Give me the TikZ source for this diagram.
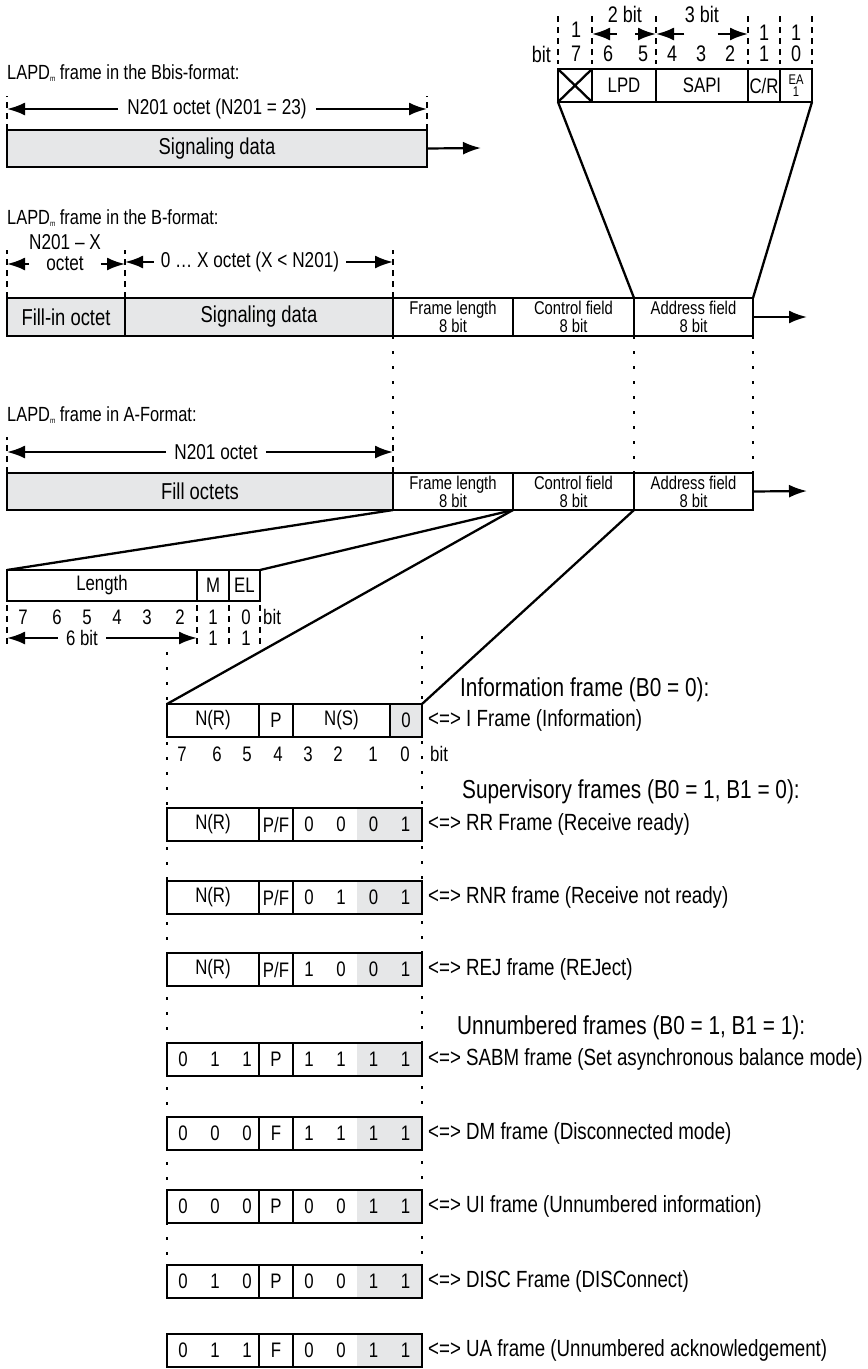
\documentclass[tikz,border=0pt]{standalone}
\usepackage{fontspec}
\setmainfont{Liberation Sans}[FakeStretch=0.8]
\usetikzlibrary{arrows.meta,positioning,calc}
\definecolor{fieldgray}{RGB}{230,231,232}

\newcommand\fTitle{\fontsize{20.5}{23}\selectfont}
\newcommand\fHead{\fontsize{26}{29}\selectfont}
\newcommand\fLab{\fontsize{23.4}{26}\selectfont}
\newcommand\fBox{\fontsize{23}{26}\selectfont}
\newcommand\fDim{\fontsize{21.5}{24}\selectfont}
\newcommand\fCell{\fontsize{21}{24}\selectfont}
\newcommand\fHdr{\fontsize{22.5}{25}\selectfont}
\newcommand\fSmall{\fontsize{18.5}{18}\selectfont}
\newcommand\fTiny{\fontsize{14}{12.5}\selectfont}
\newcommand\lapd{LAPD\raisebox{-2.5pt}{\fontsize{8}{8}\selectfont m}}
\newcommand\bitthree[3]{\makebox[32pt]{#1}\makebox[32pt]{#2}\makebox[32pt]{#3}}
\newcommand\bittwo[2]{\makebox[32pt]{#1}\makebox[32pt]{#2}}

\begin{document}
\begin{tikzpicture}[x=1pt, y=-1pt,
    fld/.style={draw, line width=2.7pt, fill=white, anchor=north west, inner sep=0pt, outer sep=0pt,
                align=center, font=\fBox, minimum width=#1, minimum height=37pt},
    gfld/.style={fld=#1, fill=fieldgray},
    cell/.style={fld=#1, minimum height=33pt, font=\fCell},
    bare/.style={anchor=north west, inner sep=0pt, outer sep=0pt, minimum width=#1,
                 minimum height=33pt, font=\fCell},
    two/.style={font=\fSmall},
    arr/.style={-{Latex[length=18pt,width=13pt]}, line width=2.2pt},
    slant/.style={line width=2.3pt},
    guide/.style={line width=2.8pt, dash pattern=on 2.8pt off 12.2pt},
    tick/.style={line width=2.2pt, dash pattern=on 6pt off 5pt},
    dimt/.style={inner ysep=0pt, inner xsep=#1, font=\fDim},
    num/.style={inner sep=0pt, font=\fCell},
    ttl/.style={anchor=west, inner sep=0pt, font=\fTitle},
    lab/.style={anchor=west, inner sep=0pt, font=\fLab},
    head/.style={anchor=west, inner sep=0pt, font=\fHead},
    hole/.style={inner sep=0pt, minimum height=0pt, minimum width=#1}
  ]
  \useasboundingbox (0,0) rectangle (868,1369);

  % address octet in detail
  \foreach \x in {558,592,656,748,780,812} \draw[tick] (\x,16) -- (\x,64);
  \node[cell=34pt] (ax) at (558,69) {};
  \draw[line width=2.3pt] (ax.north west) -- (ax.south east) (ax.north east) -- (ax.south west);
  \node[cell=64pt] (alpd) at (592,69) {LPD};
  \node[cell=92pt] (asapi) at (656,69) {SAPI};
  \node[cell=32pt] (acr) at (748,69) {C/R};
  \node[cell=32pt, font=\fTiny] (aea) at (780,69) {EA\\1};
  \node[num, font=\fHdr, anchor=east] (hbit) at (551,54) {bit};
  \foreach \x/\n in {576/7,608/6,643/5,672/4,701/3,730/2,764/1,796/0}
    \node[num, font=\fHdr] (hb\n) at (\x,54) {\n};
  \node[num, font=\fHdr] (hw7) at (576,30) {1};
  \node[num, font=\fHdr] (hw2) at (625,14) {2 bit};
  \node[num, font=\fHdr] (hw3) at (702,14) {3 bit};
  \node[num, font=\fHdr] (hw1) at (764,33) {1};
  \node[num, font=\fHdr] (hw0) at (796,33) {1};
  \node[hole=18pt] (g2) at (626,34) {};
  \node[hole=33pt] (g3) at (701,34) {};
  \draw[arr] (g2.west) -- (g2 -| alpd.west);
  \draw[arr] (g2.east) -- (g2 -| alpd.east);
  \draw[arr] (g3.west) -- (g3 -| asapi.west);
  \draw[arr] (g3.east) -- (g3 -| asapi.east);

  % Bbis format
  \node[ttl] (tbbis) at (7,73) {\lapd{} frame in the Bbis-format:};
  \draw[tick] (7,130) -- ++(0,-34);
  \draw[tick] (427,130) -- ++(0,-34);
  \node[gfld=420pt] (bbsig) at (7,130) {Signaling data};
  \coordinate (bbout) at (481,148);
  \draw[arr] (bbsig.east) -- (bbout);
  \node[dimt=9pt] (bbdim) at (217,109) {N201 octet (N201 = 23)};
  \draw[arr] (bbdim.west) -- (bbdim -| bbsig.west);
  \draw[arr] (bbdim.east) -- (bbdim -| bbsig.east);

  % B format
  \node[ttl] (tb) at (7,218) {\lapd{} frame in the B-format:};
  \foreach \x in {7,125,393} \draw[tick] (\x,298) -- ++(0,-48);
  \node[gfld=118pt, minimum height=38pt] (bfill) at (7,298) {Fill-in octet};
  \node[gfld=268pt, minimum height=38pt] (bsig) at (125,298) {Signaling data};
  \node[fld=120pt, minimum height=38pt, two] (blen) at (393,298) {Frame length\\8 bit};
  \node[fld=121pt, minimum height=38pt, two] (bctl) at (513,298) {Control field\\8 bit};
  \node[fld=119pt, minimum height=38pt, two] (badr) at (634,298) {Address field\\8 bit};
  \coordinate (bout) at (807,317);
  \draw[arr] (badr.east) -- (bout);
  \node[num, font=\fDim] (bnx) at (65,242) {N201 -- X};
  \node[dimt=17pt] (boct) at (65,264) {octet};
  \draw[arr] (boct.west) -- (boct -| bfill.west);
  \draw[arr] (boct.east) -- (boct -| bfill.east);
  \node[dimt=7pt] (bdim) at (250,262) {0 \dots{} X octet (X < N201)};
  \draw[arr] (bdim.west) -- (bdim -| bsig.west);
  \draw[arr] (bdim.east) -- (bdim -| bsig.east);
  \draw[slant] (ax.south west) -- (badr.north west);
  \draw[slant] (aea.south east) -- (badr.north east);

  % A format
  \node[ttl] (ta) at (7,415) {\lapd{} frame in A-Format:};
  \draw[guide] (blen.south west) -- ++(0,100);
  \draw[guide] (bctl.south east) -- ++(0,137);
  \draw[guide] (badr.south west) -- ++(0,137);
  \draw[guide] (badr.south east) -- ++(0,137);
  \draw[tick] (7,473) -- ++(0,-36);
  \draw[tick] (393,473) -- ++(0,-36);
  \node[gfld=386pt] (afill) at (7,473) {Fill octets};
  \node[fld=120pt, two] (alen) at (393,473) {Frame length\\8 bit};
  \node[fld=121pt, two] (actl) at (513,473) {Control field\\8 bit};
  \node[fld=119pt, two] (aadr) at (634,473) {Address field\\8 bit};
  \coordinate (aout) at (807,491);
  \draw[arr] (aadr.east) -- (aout);
  \node[dimt=8pt] (adim) at (216,452) {N201 octet};
  \draw[arr] (adim.west) -- (adim -| afill.west);
  \draw[arr] (adim.east) -- (adim -| afill.east);

  % frame length octet
  \foreach \x in {7,197,229,260} \draw[tick] (\x,605) -- ++(0,42);
  \node[fld=190pt, minimum height=31pt, font=\fCell] (llen) at (7,570) {Length};
  \node[fld=32pt, minimum height=31pt, font=\fCell] (lm) at (197,570) {M};
  \node[fld=31pt, minimum height=31pt, font=\fCell] (lel) at (229,570) {EL};
  \draw[slant] (afill.south east) -- (llen.north west);
  \draw[slant] (alen.south east) -- (lel.north east);
  \foreach \x/\n in {23/7,57/6,87/5,117/4,147/3,180/2,213/1,246/0}
    \node[num] (lb\n) at (\x,617) {\n};
  \node[num, anchor=west] (lbit) at (263,617) {bit};
  \node[dimt=8pt, font=\fCell] (l6) at (82,638) {6 bit};
  \draw[arr] (l6.west) -- (l6 -| llen.west);
  \draw[arr] (l6.east) -- (l6 -| llen.east);
  \node[num] (l1a) at (213,638) {1};
  \node[num] (l1b) at (246,638) {1};

  % control field variants
  \draw[guide] (167,652) -- (167,1262);
  \draw[guide] (422,636) -- (422,1262);
  \node[head] (hinfo) at (460,690) {Information frame (B0 = 0):};
  \node[cell=92pt] (inr) at (167,704) {N(R)};
  \node[cell=34pt] (ip) at (259,704) {P};
  \node[cell=97pt] (ins) at (293,704) {N(S)};
  \node[cell=32pt, fill=fieldgray] (iz) at (390,704) {0};
  \node[lab] (li) at (428,720) {<=> I Frame (Information)};
  \draw[slant] (inr.north west) -- (alen.south east);
  \draw[slant] (iz.north east) -- (actl.south east);
  \foreach \x/\n in {182/7,217/6,247/5,278/4,308/3,338/2,373/1,405/0}
    \node[num] (ib\n) at (\x,754) {\n};
  \node[num, anchor=west] (ibit) at (430,754) {bit};

  \node[head] (hsup) at (462,792) {Supervisory frames (B0 = 1, B1 = 0):};
  \node[head] (hunn) at (457,1028) {Unnumbered frames (B0 = 1, B1 = 1):};
  \foreach \y/\first/\pf/\ba/\bb/\bc/\bd/\nm/\lbl in {
      808/{N(R)}/{P/F}/0/0/0/1/rr/{RR Frame (Receive ready)},
      881/{N(R)}/{P/F}/0/1/0/1/rnr/{RNR frame (Receive not ready)},
      953/{N(R)}/{P/F}/1/0/0/1/rej/{REJ frame (REJect)},
      1043/{\bitthree011}/P/1/1/1/1/sabm/{SABM frame (Set asynchronous balance mode)},
      1117/{\bitthree000}/F/1/1/1/1/dm/{DM frame (Disconnected mode)},
      1190/{\bitthree000}/P/0/0/1/1/ui/{UI frame (Unnumbered information)},
      1265/{\bitthree010}/P/0/0/1/1/disc/{DISC Frame (DISConnect)},
      1334/{\bitthree011}/F/0/0/1/1/ua/{UA frame (Unnumbered acknowledgement)}} {
    \node[cell=92pt] (\nm-a) at (167,\y) {\first};
    \node[cell=34pt] (\nm-b) at (259,\y) {\pf};
    \node[bare=64pt, fill=white] (\nm-c) at (293,\y) {\bittwo{\ba}{\bb}};
    \node[bare=65pt, fill=fieldgray] (\nm-d) at (357,\y) {\bittwo{\bc}{\bd}};
    \draw[line width=2.7pt] (\nm-b.north east) rectangle (\nm-d.south east);
    \node[lab] (\nm-l) at (428,\y+16) {<=> \lbl};
  }
\end{tikzpicture}
\end{document}
